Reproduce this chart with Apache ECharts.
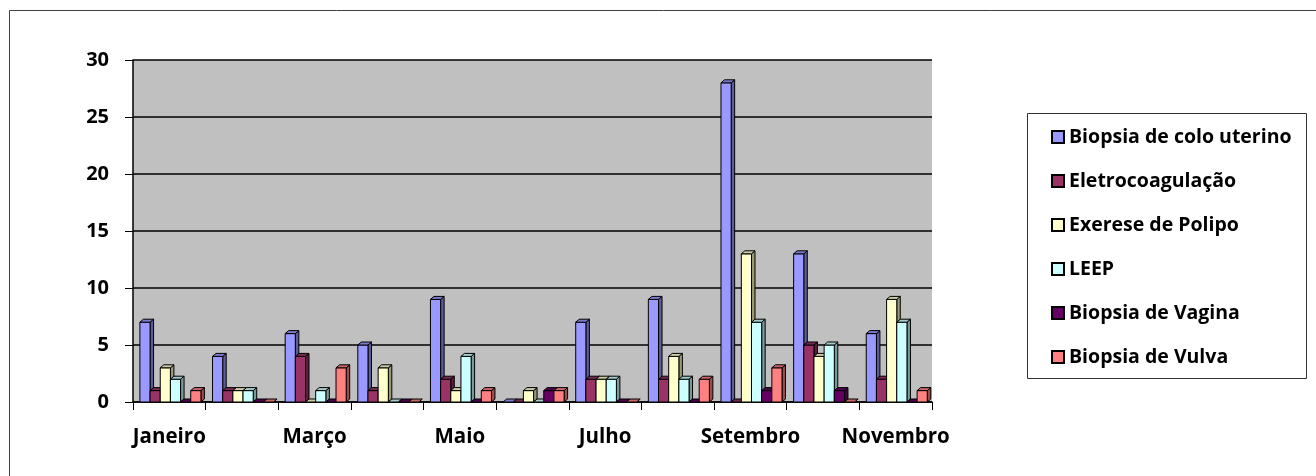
<!DOCTYPE html>
<html>
<head>
<meta charset="utf-8">
<script src="https://cdn.jsdelivr.net/npm/echarts@6/dist/echarts.min.js"></script>
<style>
  html, body { margin: 0; padding: 0; background: #fff; }
  #chart { width: 1316px; height: 476px; }
</style>
</head>
<body>
<div id="chart"></div>
<script>
// Procedimentos realizados por mês
const months = ['Janeiro', 'Fevereiro', 'Março', 'Abril', 'Maio', 'Junho', 'Julho', 'Agosto', 'Setembro', 'Outubro', 'Novembro'];
const seriesNames = ['Biopsia de colo uterino', 'Eletrocoagulação', 'Exerese de Polipo', 'LEEP', 'Biopsia de Vagina', 'Biopsia de Vulva'];

const biopsiaColo     = [7, 4, 6, 5, 9, 0, 7, 9, 28, 13, 6];
const eletrocoagulacao = [1, 1, 4, 1, 2, 0, 2, 2, 0, 5, 2];
const exerese         = [3, 1, 0, 3, 1, 1, 2, 4, 13, 4, 9];
const leep            = [2, 1, 1, 0, 4, 0, 2, 2, 7, 5, 7];
const biopsiaVagina   = [0, 0, 0, 0, 0, 1, 0, 0, 1, 1, 0];
const biopsiaVulva    = [1, 0, 3, 0, 1, 1, 0, 2, 3, 0, 1];

const yTicks = { min: 0, max: 30, interval: 5 };

const allValues = [biopsiaColo, eletrocoagulacao, exerese, leep, biopsiaVagina, biopsiaVulva];
const faceColors = ['#9999FF', '#993366', '#FFFFCC', '#CCFFFF', '#660066', '#FF8080'];
const sideColors = ['#5C5C99', '#5C1F3D', '#99997A', '#7A9999', '#3D003D', '#994D4D'];
const topColors  = ['#7A7ACC', '#7A2952', '#CCCCA3', '#A3CCCC', '#520052', '#CC6666'];

const chart = echarts.init(document.getElementById('chart'), null, { renderer: 'canvas' });
const FONT = '"Open Sans", "Noto Sans", sans-serif';
const nSeries = allValues.length;

// Draws a bar as a front face, right side and top, giving a 3D column look
function make3dBar(si) {
  return function (params, api) {
    const cat = api.value(0);
    const val = api.value(1);
    const base = api.coord([cat, 0]);
    const top = api.coord([cat, val]);
    const cw = api.size([1, 0])[0];
    const step = cw * 0.84 / nSeries;
    const x0 = base[0] - cw / 2 + cw * 0.095 + si * step;
    const w = step;
    const d = 3.5, dy = 3;
    const stroke = { stroke: '#000', lineWidth: 1 };
    const children = [];
    if (val > 0) {
      children.push({
        type: 'polygon',
        shape: { points: [[x0 + w, top[1]], [x0 + w + d, top[1] - dy], [x0 + w + d, base[1] - dy], [x0 + w, base[1]]] },
        style: Object.assign({ fill: sideColors[si] }, stroke)
      });
      children.push({
        type: 'rect',
        shape: { x: x0, y: top[1], width: w, height: base[1] - top[1] },
        style: Object.assign({ fill: faceColors[si] }, stroke)
      });
    }
    children.push({
      type: 'polygon',
      shape: { points: [[x0, top[1]], [x0 + d, top[1] - dy], [x0 + w + d, top[1] - dy], [x0 + w, top[1]]] },
      style: Object.assign({ fill: topColors[si] }, stroke)
    });
    return { type: 'group', children: children };
  };
}

const series = allValues.map(function (vals, si) {
  return {
    name: seriesNames[si],
    type: 'custom',
    renderItem: make3dBar(si),
    itemStyle: { color: faceColors[si], borderColor: '#000', borderWidth: 1 },
    encode: { x: 0, y: 1 },
    data: vals.map(function (v, i) { return [i, v]; }),
    z: 3
  };
});

chart.setOption({
  animation: false,
  backgroundColor: '#fff',
  grid: {
    left: 133, right: 384, top: 60, bottom: 74,
    show: true, backgroundColor: '#C0C0C0', borderWidth: 0
  },
  legend: {
    orient: 'vertical',
    left: 1046, top: 121,
    icon: 'rect',
    itemWidth: 12, itemHeight: 12,
    itemGap: 22,
    textStyle: { fontFamily: FONT, fontWeight: 'bold', fontSize: 19.5, color: '#000', lineHeight: 22 },
    data: seriesNames
  },
  xAxis: {
    type: 'category',
    data: months,
    boundaryGap: true,
    axisLine: { show: true, lineStyle: { color: '#000', width: 1.5 } },
    axisTick: { show: true, interval: 0, length: 8, lineStyle: { color: '#000' } },
    axisLabel: { interval: 1, margin: 25, fontFamily: FONT, fontWeight: 'bold', fontSize: 20.5, color: '#000' },
    splitLine: { show: false }
  },
  yAxis: {
    type: 'value',
    min: yTicks.min, max: yTicks.max, interval: yTicks.interval,
    axisLine: { show: true, lineStyle: { color: '#000', width: 1.5 } },
    axisTick: { show: true, length: 8, lineStyle: { color: '#000' } },
    axisLabel: { margin: 24, fontFamily: FONT, fontWeight: 'bold', fontSize: 20, color: '#000' },
    splitLine: { show: true, lineStyle: { color: '#000', width: 1.6 } }
  },
  graphic: [
    { type: 'rect', silent: true, z: -1,
      shape: { x: 9.5, y: 10.5, width: 1400, height: 600 },
      style: { fill: 'none', stroke: '#404040', lineWidth: 1 } },
    { type: 'rect', silent: true, z: -1,
      shape: { x: 1027.5, y: 113.5, width: 279, height: 265 },
      style: { fill: '#fff', stroke: '#333', lineWidth: 1 } }
  ],
  series: series
});
</script>
</body>
</html>
